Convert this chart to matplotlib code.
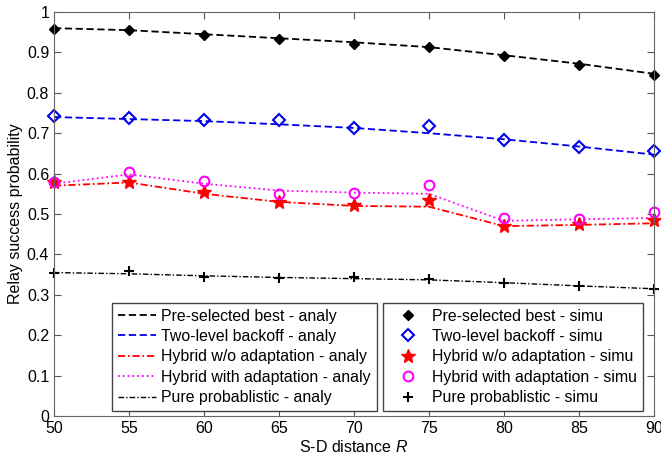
import numpy as np
import matplotlib
matplotlib.use("Agg")
import matplotlib.pyplot as plt

plt.rcParams['font.family'] = ['Liberation Sans', 'DejaVu Sans']
plt.rcParams['mathtext.fontset'] = 'custom'
plt.rcParams['mathtext.it'] = 'Liberation Sans:italic'

# S-D distance
dist = [50, 55, 60, 65, 70, 75, 80, 85, 90]

# analytical curves
best_analy = [0.960, 0.955, 0.945, 0.935, 0.925, 0.913, 0.893, 0.872, 0.847]
twolevel_analy = [0.740, 0.735, 0.730, 0.722, 0.713, 0.700, 0.685, 0.667, 0.647]
hybrid_analy = [0.570, 0.578, 0.550, 0.530, 0.520, 0.518, 0.470, 0.473, 0.477]
adapt_analy = [0.575, 0.598, 0.575, 0.558, 0.553, 0.550, 0.483, 0.487, 0.490]
pure_analy = [0.355, 0.352, 0.347, 0.343, 0.340, 0.337, 0.330, 0.322, 0.315]

# simulation points
best_simu = [0.958, 0.955, 0.943, 0.933, 0.922, 0.913, 0.892, 0.870, 0.845]
twolevel_simu = [0.742, 0.737, 0.733, 0.733, 0.713, 0.717, 0.683, 0.667, 0.655]
hybrid_simu = [0.578, 0.578, 0.555, 0.530, 0.522, 0.535, 0.470, 0.475, 0.485]
adapt_simu = [0.578, 0.605, 0.582, 0.550, 0.553, 0.573, 0.490, 0.488, 0.505]
pure_simu = [0.355, 0.360, 0.345, 0.342, 0.343, 0.338, 0.328, 0.322, 0.315]

fig = plt.figure(figsize=(6.61, 4.63), dpi=100)
ax = fig.add_axes([0.0817, 0.1015, 0.9077, 0.8726])

la = []
la += ax.plot(dist, best_analy, '--', color='black', lw=1.3, dashes=(4, 2),
              label='Pre-selected best - analy')
la += ax.plot(dist, twolevel_analy, '--', color='#0000ee', lw=1.3, dashes=(4, 2),
              label='Two-level backoff - analy')
la += ax.plot(dist, hybrid_analy, '-.', color='red', lw=1.3, dashes=(4, 1.5, 1, 1.5),
              label='Hybrid w/o adaptation - analy')
la += ax.plot(dist, adapt_analy, ':', color='#ff00ff', lw=1.3,
              label='Hybrid with adaptation - analy')
la += ax.plot(dist, pure_analy, '-.', color='black', lw=1.0, dashes=(4, 1.5, 1, 1.5),
              label='Pure probablistic - analy')

ls = []
ls += ax.plot(dist, best_simu, 'D', color='black', ms=5, ls='none', clip_on=False,
              label='Pre-selected best - simu')
ls += ax.plot(dist, twolevel_simu, 'D', color='#0000ee', mfc='none', ms=6, ls='none',
              markeredgewidth=1.5, clip_on=False, label='Two-level backoff - simu')
ls += ax.plot(dist, hybrid_simu, '*', color='red', ms=10, ls='none',
              markeredgewidth=1.0, clip_on=False, label='Hybrid w/o adaptation - simu')
ls += ax.plot(dist, adapt_simu, 'o', color='#ff00ff', mfc='none', ms=7, ls='none',
              markeredgewidth=1.5, clip_on=False, label='Hybrid with adaptation - simu')
ls += ax.plot(dist, pure_simu, '+', color='black', ms=7, ls='none',
              markeredgewidth=1.5, clip_on=False, label='Pure probablistic - simu')

ax.set_xlim(50, 90)
ax.set_ylim(0, 1)
ax.set_xticks(np.arange(50, 91, 5))
ax.set_yticks(np.arange(0, 1.01, 0.1))
ax.set_yticklabels(['0', '0.1', '0.2', '0.3', '0.4', '0.5', '0.6', '0.7', '0.8', '0.9', '1'])
ax.tick_params(direction='in', top=True, right=True, labelsize=11.5, length=5,
               width=0.8, color='#555555')
for s in ax.spines.values():
    s.set_color('#666666')
ax.set_xlabel('S-D distance $R$', fontsize=11.5, labelpad=2)
ax.set_ylabel('Relay success probability', fontsize=11.5, labelpad=3)

leg_style = dict(fontsize=11.4, fancybox=False, edgecolor='#444444', framealpha=1,
                 handlelength=2.4, handletextpad=0.3, labelspacing=0.34,
                 borderpad=0.38, borderaxespad=0)
leg1 = ax.legend(handles=la, loc='lower left', bbox_to_anchor=(0.097, 0.012), **leg_style)
ax.add_artist(leg1)
ax.legend(handles=ls, loc='lower right', bbox_to_anchor=(0.982, 0.012), **leg_style)

fig.savefig('out.png', dpi=100)
